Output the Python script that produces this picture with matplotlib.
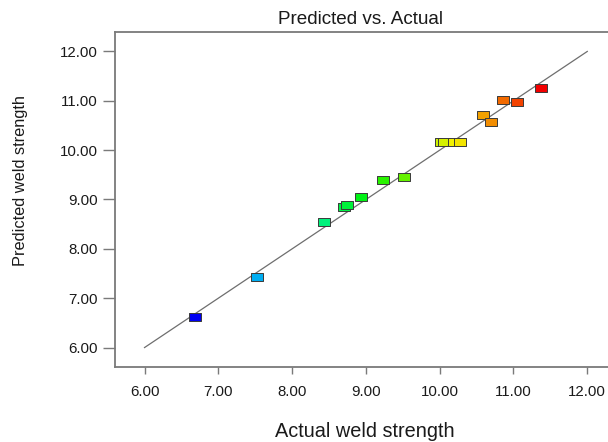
import numpy as np
import matplotlib
matplotlib.use('Agg')
import matplotlib.pyplot as plt
from matplotlib.path import Path
from matplotlib.colors import hsv_to_rgb

# values
actual = [6.69, 7.53, 8.43, 8.70, 8.75, 8.93, 9.23, 9.52,
          10.02, 10.06, 10.20, 10.27, 10.59, 10.69, 10.86, 11.05, 11.37]
predicted = [6.62, 7.43, 8.55, 8.85, 8.88, 9.05, 9.39, 9.45,
             10.16, 10.16, 10.16, 10.16, 10.72, 10.58, 11.02, 10.97, 11.26]
ticks = [6, 7, 8, 9, 10, 11, 12]
title = 'Predicted vs. Actual'
xlabel = 'Actual weld strength'
ylabel = 'Predicted weld strength'

plt.rcParams['font.family'] = ['Liberation Sans', 'DejaVu Sans']

W, H = 608, 442
fig = plt.figure(figsize=(W / 100, H / 100), dpi=100)
ax = fig.add_axes([115 / W, 74.7 / H, 501.8 / W, 335.6 / H])

# rectangular marker like the design-expert boxes
box = Path([(-1, -0.64), (1, -0.64), (1, 0.64), (-1, 0.64), (-1, -0.64)],
           [Path.MOVETO, Path.LINETO, Path.LINETO, Path.LINETO, Path.CLOSEPOLY])

# colour by actual value, blue (low) -> red (high)
a = np.array(actual)
t = (a - a.min()) / (a.max() - a.min())
cols = [hsv_to_rgb(((1 - v) * 2 / 3, 1.0, 0.95)) for v in t]

ax.plot([ticks[0], ticks[-1]], [ticks[0], ticks[-1]], color='#6e6e6e', lw=0.9, zorder=1)
for x, y, c in zip(actual, predicted, cols):
    ax.plot(x, y, marker=box, ms=8.2, mfc=c, mec='#3a3a3a', mew=0.7, ls='none', zorder=2)

ax.set_xlim(5.6, 12.4)
ax.set_ylim(5.6, 12.4)
ax.set_xticks(ticks)
ax.set_yticks(ticks)
ax.set_xticklabels(['%.2f' % v for v in ticks])
ax.set_yticklabels(['%.2f' % v for v in ticks])

for s in ['left', 'bottom', 'top']:
    ax.spines[s].set_color('#7a7a7a')
    ax.spines[s].set_linewidth(1.3)
ax.spines['right'].set_visible(False)

ax.tick_params(axis='x', direction='out', length=5, width=1, color='#7a7a7a',
               labelsize=10.8, pad=8, labelcolor='#1a1a1a')
ax.tick_params(axis='y', direction='out', length=9, width=1, color='#7a7a7a',
               labelsize=10.8, pad=3.5, labelcolor='#1a1a1a')

fig.text(360 / W, 1 - 20 / H, title, ha='center', va='center', fontsize=13.6, color='#1a1a1a')
fig.text(364.5 / W, 1 - 431.7 / H, xlabel, ha='center', va='center', fontsize=14.3, color='#1a1a1a')
fig.text(21 / W, 1 - 180 / H, ylabel, ha='center', va='center', rotation=90,
         fontsize=11.8, color='#1a1a1a')

fig.savefig('out.png', dpi=100)
